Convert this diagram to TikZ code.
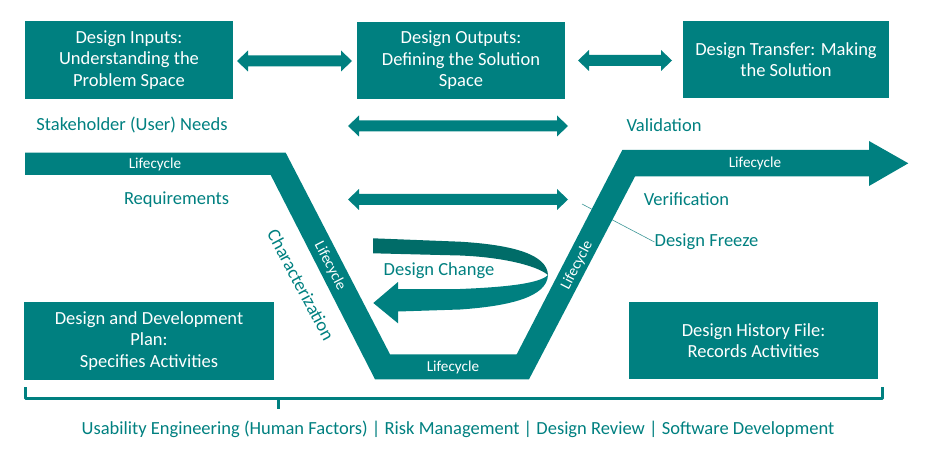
\documentclass[tikz,border=0pt]{standalone}
\usepackage{fontspec}
\setmainfont{Carlito}
\definecolor{tl}{RGB}{0,128,128}
\definecolor{tldark}{RGB}{0,108,104}
\definecolor{tlline}{RGB}{60,150,150}
\begin{document}
\begin{tikzpicture}[x=1pt,y=-1pt,
  box/.style={fill=tl,text=white,align=center,inner sep=0pt,font=\fontsize{18.5}{21.5}\selectfont},
  lbl/.style={text=tl,inner sep=0pt,font=\fontsize{18.5}{21}\selectfont},
  life/.style={text=white,inner sep=0pt,font=\fontsize{15.2}{17}\selectfont}]
\useasboundingbox (0,0) rectangle (936,462);
\newcommand\dbarrow[3]{%
 \fill[tl] (#1,#3) -- (#1+11,#3-10.5) -- (#1+11,#3-5.5) -- (#2-11,#3-5.5) -- (#2-11,#3-10.5) -- (#2,#3)
   -- (#2-11,#3+10.5) -- (#2-11,#3+5.5) -- (#1+11,#3+5.5) -- (#1+11,#3+10.5) -- cycle;}
% top boxes
\node[box,minimum width=208,minimum height=78] (b1) at (129,60) {Design Inputs:\\Understanding the\\Problem Space};
\node[box,minimum width=208,minimum height=77] (b2) at (461,60.5) {Design Outputs:\\Defining the Solution\\Space};
\node[box,minimum width=206,minimum height=77] (b3) at (786,59.5) {Design Transfer: Making\\the Solution};
% double arrows
\dbarrow{237}{352}{61}
\dbarrow{578}{672}{60.5}
\dbarrow{348}{568}{126}
\dbarrow{348}{568}{199.5}
% labels
\node[lbl] (sn) at (132,125) {Stakeholder (User) Needs};
\node[lbl] (va) at (664,125) {Validation};
\node[lbl] (rq) at (176.5,200) {Requirements};
\node[lbl] (ve) at (686.5,199) {Verification};
\node[lbl] (df) at (706.5,242) {Design Freeze};
% design freeze leader line (behind the V)
\draw[tlline,line width=0.6pt] (582,204) -- (df.west);
% V lifecycle band
\fill[tl] (25,152.7) -- (285.7,152.7) -- (390,354.3) -- (516.7,354.3) -- (622.3,150) -- (869,150) -- (869,141)
  -- (908.3,163.3) -- (869,186) -- (869,176.5) -- (635,176.5) -- (529,379.3) -- (375,379.3) -- (270.7,175)
  -- (25,175) -- cycle;
\node[life] (l1) at (155,164) {Lifecycle};
\node[life] (l2) at (453,367) {Lifecycle};
\node[life] (l3) at (755,163) {Lifecycle};
\node[life,rotate=-62.6] (l4) at (330,266) {Lifecycle};
\node[life,rotate=62.6] (l5) at (577,265) {Lifecycle};
\node[lbl,rotate=-62] (ch) at (301,285) {Characterization};
% design change ribbon
\fill[tldark] (373,238.3) -- (460,241.7) .. controls (515,245) and (547,255) .. (548,275)
  .. controls (536,265) and (500,257) .. (460,255.5) -- (373,253.3) -- cycle;
\fill[tl] (548,275) .. controls (547,297) and (510,306) .. (460,309.5) -- (398,311.5) -- (398,323.3) -- (373.3,303)
  -- (398,282) -- (398,289) -- (460,289) .. controls (510,287) and (540,283) .. (548,275) -- cycle;
\node[lbl] (dc) at (439,271) {Design Change};
% bottom boxes
\node[box,minimum width=250,minimum height=78] (b4) at (149,341) {Design and Development\\Plan:\\Specifies Activities};
\node[box,minimum width=249,minimum height=77] (b5) at (753.5,340.5) {Design History File:\\Records Activities};
% bracket
\coordinate (brl) at (25,387);
\coordinate (brr) at (882,387);
\coordinate (brm) at (278,398);
\draw[tl,line width=3pt,line join=round] (brl) -- (25,398) -- (882,398) -- (brr);
\draw[tl,line width=3pt] (brm) -- (278,409);
\node[lbl] (bt) at (458,429) {Usability Engineering (Human Factors) | Risk Management | Design Review | Software Development};
\end{tikzpicture}
\end{document}
